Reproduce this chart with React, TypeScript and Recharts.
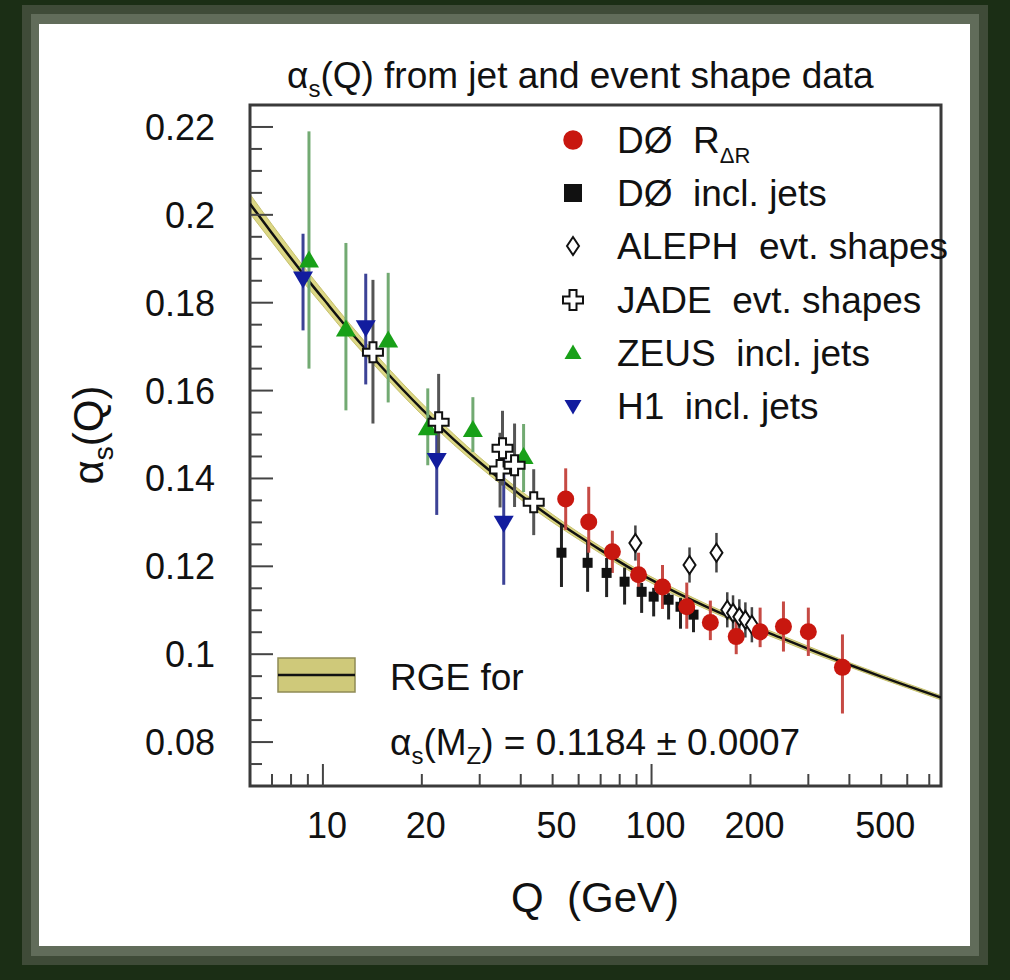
import React from "react";
import {
  ComposedChart,
  XAxis,
  YAxis,
  Scatter,
  ErrorBar,
  Line,
  Area,
  ReferenceArea,
} from "recharts";

// axis ticks
const xTicks = [7, 8, 9, 10, 20, 30, 40, 50, 60, 70, 80, 90, 100, 200, 300, 400, 500, 600, 700];
const xTickLabels = [10, 20, 50, 100, 200, 500];
const xLongTicks = [10, 100];
const yTicks = [
  0.075, 0.08, 0.085, 0.09, 0.095, 0.1, 0.105, 0.11, 0.115, 0.12, 0.125, 0.13, 0.135, 0.14, 0.145,
  0.15, 0.155, 0.16, 0.165, 0.17, 0.175, 0.18, 0.185, 0.19, 0.195, 0.2, 0.205, 0.21, 0.215, 0.22,
];
const yTickLabels = ["0.08", "0.1", "0.12", "0.14", "0.16", "0.18", "0.2", "0.22"];

// RGE curve
const rgeQ = [6, 7, 8, 9, 10, 12, 15, 20, 25, 30, 40, 50, 60, 70, 91.2, 120, 150, 200, 250, 300, 400, 500, 600, 760];
const rgeAlpha = [
  0.2025, 0.1958, 0.1901, 0.1852, 0.181, 0.1738, 0.1656, 0.1558, 0.1489, 0.1437, 0.1362, 0.1309,
  0.1269, 0.1237, 0.1185, 0.1139, 0.1105, 0.1065, 0.1036, 0.1012, 0.0976, 0.0949, 0.0928, 0.0901,
];
const rgeHalfWidth = [
  0.0022, 0.002, 0.0019, 0.0018, 0.0017, 0.0016, 0.0014, 0.0013, 0.0012, 0.0011, 0.001, 0.0009,
  0.0008, 0.0008, 0.0007, 0.0007, 0.0006, 0.0006, 0.0006, 0.0006, 0.0005, 0.0005, 0.0005, 0.0005,
];

// D0 R_deltaR
const d0RdrQ = [54.8, 64.4, 76, 91.3, 108, 128, 151, 181, 214, 252, 300, 381];
const d0RdrA = [0.1353, 0.1301, 0.1233, 0.1181, 0.1153, 0.1108, 0.1072, 0.104, 0.1051, 0.1063, 0.1051, 0.097];
const d0RdrLo = [0.007, 0.007, 0.0048, 0.005, 0.005, 0.005, 0.004, 0.004, 0.0035, 0.0057, 0.0055, 0.0105];
const d0RdrHi = [0.007, 0.008, 0.0048, 0.005, 0.005, 0.0055, 0.005, 0.005, 0.0055, 0.0057, 0.0055, 0.0075];

// D0 inclusive jets
const d0JetQ = [53.2, 63.9, 73, 82.8, 93.3, 101.5, 112.7, 122.5, 134.2];
const d0JetA = [0.1231, 0.1208, 0.1185, 0.1165, 0.1142, 0.1131, 0.1124, 0.1108, 0.109];
const d0JetLo = [0.0078, 0.0066, 0.0055, 0.0052, 0.0048, 0.0045, 0.0045, 0.005, 0.004];
const d0JetHi = [0.0063, 0.005, 0.0034, 0.0032, 0.002, 0.002, 0.0015, 0.002, 0.002];

// ALEPH event shapes
const alephQ = [89.3, 130.5, 157.6, 170, 177, 185, 193, 202];
const alephA = [0.1253, 0.1203, 0.1231, 0.1101, 0.1094, 0.1085, 0.1078, 0.1067];
const alephErr = [0.004, 0.004, 0.0045, 0.004, 0.004, 0.004, 0.004, 0.004];

// JADE event shapes
const jadeQ = [14.2, 22.5, 34.6, 35.2, 38.3, 43.8];
const jadeA = [0.1687, 0.1528, 0.1419, 0.1469, 0.143, 0.1346];
const jadeLo = [0.0162, 0.009, 0.0085, 0.0085, 0.0095, 0.0075];
const jadeHi = [0.0165, 0.011, 0.0085, 0.0085, 0.0095, 0.0075];

// ZEUS inclusive jets
const zeusQ = [9.07, 11.75, 15.8, 20.85, 28.6, 40.8];
const zeusA = [0.1896, 0.1739, 0.1714, 0.1514, 0.151, 0.1449];
const zeusLo = [0.0246, 0.0184, 0.0141, 0.0084, 0.005, 0.008];
const zeusHi = [0.0294, 0.0197, 0.0154, 0.0091, 0.0075, 0.0075];

// H1 inclusive jets
const h1Q = [8.7, 13.5, 22.2, 35.5];
const h1A = [0.1855, 0.1744, 0.1442, 0.1299];
const h1Lo = [0.0118, 0.013, 0.0125, 0.0141];
const h1Hi = [0.0102, 0.0122, 0.011, 0.015];

const points = (q: number[], a: number[], lo: number[], hi: number[]) =>
  q.map((x, i) => ({ q: x, a: a[i], err: [lo[i], hi[i]] }));

const rgeData = rgeQ.map((q, i) => ({
  q,
  a: rgeAlpha[i],
  band: [rgeAlpha[i] - rgeHalfWidth[i], rgeAlpha[i] + rgeHalfWidth[i]],
}));

const FONT = "'Liberation Sans', Arial, Helvetica, sans-serif";
const RED = "#c8170f";
const GREEN = "#18a018";
const BLUE = "#121c9e";

type Mk = { cx?: number; cy?: number; s?: number };

const CircleMk = ({ cx = 0, cy = 0, s = 1 }: Mk) => <circle cx={cx} cy={cy} r={8.5 * s} fill={RED} />;
const SquareMk = ({ cx = 0, cy = 0, s = 1 }: Mk) => (
  <rect x={cx - 5 * s} y={cy - 5 * s} width={10 * s} height={10 * s} fill="#111" />
);
const DiamondMk = ({ cx = 0, cy = 0, s = 1 }: Mk) => (
  <path
    d={`M${cx},${cy - 9 * s} L${cx + 6 * s},${cy} L${cx},${cy + 9 * s} L${cx - 6 * s},${cy} Z`}
    fill="#fff"
    stroke="#111"
    strokeWidth={2}
  />
);
const CrossMk = ({ cx = 0, cy = 0, s = 1 }: Mk) => {
  const a = 3.5 * s;
  const b = 10 * s;
  const d = `M${cx - a},${cy - b} L${cx + a},${cy - b} L${cx + a},${cy - a} L${cx + b},${cy - a} L${cx + b},${cy + a} L${cx + a},${cy + a} L${cx + a},${cy + b} L${cx - a},${cy + b} L${cx - a},${cy + a} L${cx - b},${cy + a} L${cx - b},${cy - a} L${cx - a},${cy - a} Z`;
  return <path d={d} fill="#fff" stroke="#111" strokeWidth={2} />;
};
const TriUpMk = ({ cx = 0, cy = 0, s = 1 }: Mk) => (
  <path d={`M${cx},${cy - 10 * s} L${cx + 10 * s},${cy + 7 * s} L${cx - 10 * s},${cy + 7 * s} Z`} fill={GREEN} />
);
const TriDownMk = ({ cx = 0, cy = 0, s = 1 }: Mk) => (
  <path d={`M${cx},${cy + 10 * s} L${cx + 10 * s},${cy - 7 * s} L${cx - 10 * s},${cy - 7 * s} Z`} fill={BLUE} />
);

const XTick = (props: any) => {
  const { x, y, payload } = props;
  const v = payload.value;
  const len = xLongTicks.includes(v) ? 22 : 12;
  return (
    <g>
      <line x1={x} x2={x} y1={y} y2={y - len} stroke="#444" strokeWidth={2} />
      {xTickLabels.includes(v) && (
        <text x={x + 4} y={y + 52} textAnchor="middle" fontSize={36} fontFamily={FONT} fill="#111">
          {v}
        </text>
      )}
    </g>
  );
};

const YTick = (props: any) => {
  const { x, y, payload } = props;
  const label = String(+Number(payload.value).toFixed(3));
  const major = yTickLabels.includes(label);
  return (
    <g>
      <line x1={x} x2={x + (major ? 23 : 12)} y1={y} y2={y} stroke="#444" strokeWidth={2} />
      {major && (
        <text x={x - 35} y={y + 13} textAnchor="end" fontSize={36} fontFamily={FONT} fill="#111">
          {label}
        </text>
      )}
    </g>
  );
};

const legendRows = [
  { y: 140, Mk: CircleMk, s: 1.15, label: "DØ\u00a0\u00a0R", sub: "ΔR" },
  { y: 193, Mk: SquareMk, s: 1.8, label: "DØ\u00a0\u00a0incl. jets", sub: "" },
  { y: 246, Mk: DiamondMk, s: 1.0, label: "ALEPH\u00a0\u00a0evt. shapes", sub: "" },
  { y: 300, Mk: CrossMk, s: 1.0, label: "JADE\u00a0\u00a0evt. shapes", sub: "" },
  { y: 353, Mk: TriUpMk, s: 0.85, label: "ZEUS\u00a0\u00a0incl. jets", sub: "" },
  { y: 406, Mk: TriDownMk, s: 0.85, label: "H1\u00a0\u00a0incl. jets", sub: "" },
];

export default function App() {
  return (
    <div style={{ position: "absolute", left: 0, top: 0, width: 1010, height: 980, background: "#1b2e15" }}>
      <div style={{ position: "absolute", left: 22, top: 5, width: 966, height: 960, background: "#3f4b38" }} />
      <div style={{ position: "absolute", left: 31, top: 14, width: 948, height: 942, background: "#616c5a" }} />
      <div style={{ position: "absolute", left: 39, top: 24, width: 931, height: 922, background: "#ffffff" }} />
      <div style={{ position: "absolute", left: 0, top: 0 }}>
        <ComposedChart width={1010} height={980} margin={{ top: 105, right: 69, bottom: 154, left: 190 }}>
          <XAxis
            dataKey="q"
            type="number"
            scale="log"
            domain={[6, 760]}
            allowDataOverflow
            ticks={xTicks}
            interval={0}
            tickSize={0}
            tickMargin={0}
            axisLine={false}
            tickLine={false}
            height={40}
            tick={(p: any) => <XTick {...p} />}
          />
          <YAxis
            type="number"
            domain={[0.07, 0.225]}
            allowDataOverflow
            ticks={yTicks}
            interval={0}
            tickSize={0}
            tickMargin={0}
            axisLine={false}
            tickLine={false}
            width={60}
            tick={(p: any) => <YTick {...p} />}
          />
          <Area
            data={rgeData}
            dataKey="band"
            type="monotone"
            fill="#dcd784"
            fillOpacity={1}
            stroke="#c6c06e"
            strokeWidth={1}
            isAnimationActive={false}
          />
          <Line data={rgeData} dataKey="a" type="monotone" stroke="#111" strokeWidth={2.5} dot={false} isAnimationActive={false} />
          <Scatter data={points(zeusQ, zeusA, zeusLo, zeusHi)} dataKey="a" shape={(p: any) => <TriUpMk cx={p.cx} cy={p.cy} />} isAnimationActive={false}>
            <ErrorBar dataKey="err" direction="y" width={0} stroke="#72aa72" strokeWidth={3} />
          </Scatter>
          <Scatter data={points(h1Q, h1A, h1Lo, h1Hi)} dataKey="a" shape={(p: any) => <TriDownMk cx={p.cx} cy={p.cy} />} isAnimationActive={false}>
            <ErrorBar dataKey="err" direction="y" width={0} stroke="#3c4296" strokeWidth={3} />
          </Scatter>
          <Scatter data={points(jadeQ, jadeA, jadeLo, jadeHi)} dataKey="a" shape={(p: any) => <CrossMk cx={p.cx} cy={p.cy} />} isAnimationActive={false}>
            <ErrorBar dataKey="err" direction="y" width={0} stroke="#555" strokeWidth={3} />
          </Scatter>
          <Scatter data={points(alephQ, alephA, alephErr, alephErr)} dataKey="a" shape={(p: any) => <DiamondMk cx={p.cx} cy={p.cy} />} isAnimationActive={false}>
            <ErrorBar dataKey="err" direction="y" width={0} stroke="#444" strokeWidth={2.5} />
          </Scatter>
          <Scatter data={points(d0JetQ, d0JetA, d0JetLo, d0JetHi)} dataKey="a" shape={(p: any) => <SquareMk cx={p.cx} cy={p.cy} />} isAnimationActive={false}>
            <ErrorBar dataKey="err" direction="y" width={0} stroke="#222" strokeWidth={3} />
          </Scatter>
          <Scatter data={points(d0RdrQ, d0RdrA, d0RdrLo, d0RdrHi)} dataKey="a" shape={(p: any) => <CircleMk cx={p.cx} cy={p.cy} />} isAnimationActive={false}>
            <ErrorBar dataKey="err" direction="y" width={0} stroke="#c64a44" strokeWidth={3} />
          </Scatter>
          <ReferenceArea x1={6} x2={760} y1={0.07} y2={0.225} fill="none" stroke="#3a3a3a" strokeWidth={3} ifOverflow="visible" />
        </ComposedChart>
      </div>
      <svg width={1010} height={980} style={{ position: "absolute", left: 0, top: 0, pointerEvents: "none" }} fontFamily={FONT} fill="#111">
        <text x={287} y={88} fontSize={37}>
          α<tspan fontSize={24} dy={9}>s</tspan>
          <tspan dy={-9}>(Q) from jet and event shape data</tspan>
        </text>
        {legendRows.map((r) => (
          <g key={r.label}>
            <r.Mk cx={573} cy={r.y} s={r.s} />
            <text x={617} y={r.y + 13} fontSize={37}>
              {r.label}
              {r.sub && (
                <tspan fontSize={22} dy={10}>
                  {r.sub}
                </tspan>
              )}
            </text>
          </g>
        ))}
        <rect x={278} y={658} width={77} height={34} fill="#cfc97a" stroke="#8f8a55" strokeWidth={1.5} />
        <line x1={278} x2={355} y1={675} y2={675} stroke="#111" strokeWidth={2.5} />
        <text x={390} y={690} fontSize={37}>RGE for</text>
        <text x={390} y={755} fontSize={37}>
          α<tspan fontSize={24} dy={9}>s</tspan>
          <tspan dy={-9}>(M</tspan>
          <tspan fontSize={24} dy={9}>Z</tspan>
          <tspan dy={-9}>) = 0.1184 ± 0.0007</tspan>
        </text>
        <text x={595} y={912} fontSize={42} textAnchor="middle">Q{"\u00a0\u00a0"}(GeV)</text>
        <text x={103} y={435} fontSize={42} textAnchor="middle" transform="rotate(-90 103 435)">
          α<tspan fontSize={28} dy={10}>s</tspan>
          <tspan dy={-10}>(Q)</tspan>
        </text>
      </svg>
    </div>
  );
}
